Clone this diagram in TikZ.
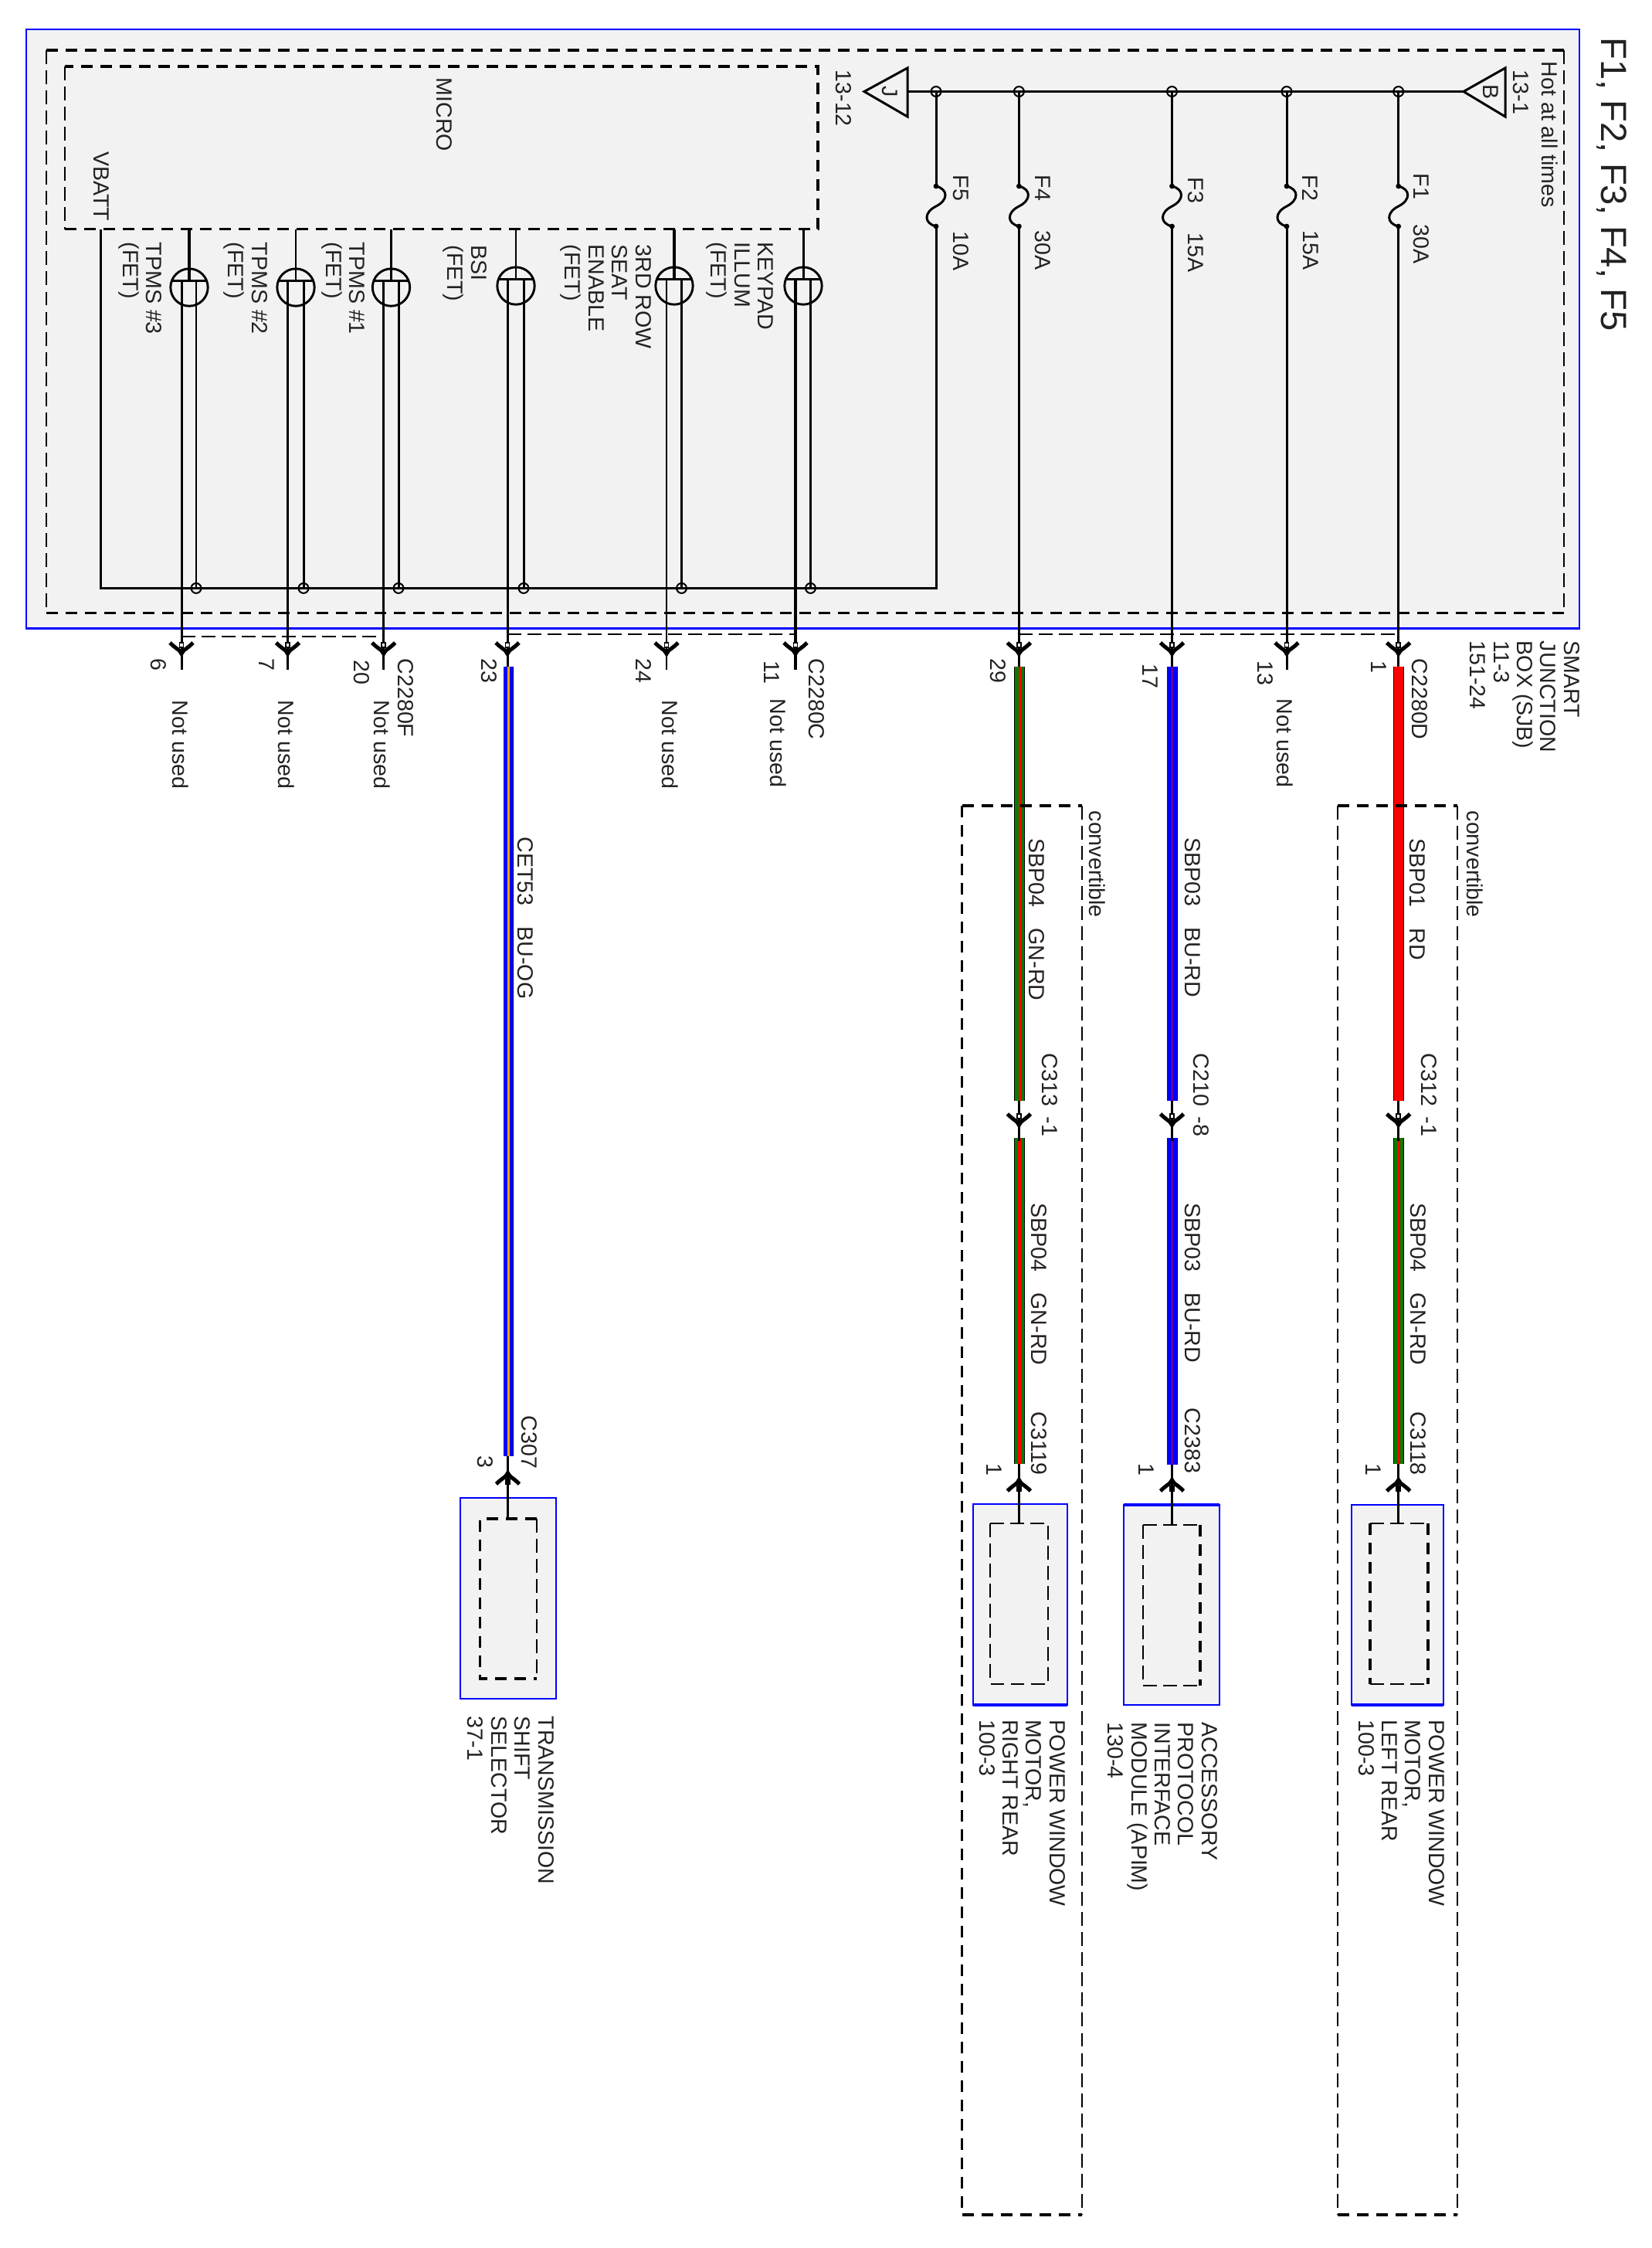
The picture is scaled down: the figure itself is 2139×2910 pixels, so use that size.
\documentclass[tikz,border=0pt]{standalone}
\usepackage{fontspec}
\setmainfont{Liberation Sans}
\definecolor{boxgray}{HTML}{F2F2F2}
\definecolor{gnwire}{HTML}{007F00}
\definecolor{ogwire}{HTML}{FFA500}
\definecolor{inktext}{HTML}{222222}
\tikzset{
 lbl/.style={rotate=-90,anchor=north west,inner sep=0pt,align=left,text=inktext,font=\fontsize{6.85}{7.3}\selectfont},
 lnk/.style={line width=.72pt},
 fatlnk/.style={line width=.85pt},
 thinlnk/.style={line width=.5pt},
 dashthin/.style={line width=.48pt,dash pattern=on 4.3pt off 1.95pt},
 dashfat/.style={line width=.75pt,dash pattern=on 3.6pt off 2.4pt},
 bluebox/.style={draw=blue,fill=boxgray,line width=.7pt},
 junct/.style={circle,draw,fill=none,inner sep=0pt,minimum size=3.1pt,line width=.5pt},
 fet/.style={circle,draw,inner sep=0pt,minimum size=11.6pt,line width=.7pt},
 plug/.pic={
  \draw[line width=1.2pt] (-15,-13) .. controls (-9,-7) and (-4,-4) .. (0,-1) .. controls (4,-4) and (9,-7) .. (15,-13);
  \fill (-7,-5) -- (0,6) -- (7,-5) -- cycle;
  \draw[fill=white,line width=.35pt] (-2.5,-13) rectangle (2.5,-7);
 },
 fuse/.pic={
  \draw[lnk] (0,0) .. controls (16,4) and (16,18) .. (0,26) .. controls (-16,34) and (-16,48) .. (0,52);
  \fill (0,0) circle[radius=3.4];
  \fill (0,52) circle[radius=3.4];
 }
}
\begin{document}
\begin{tikzpicture}[x=0.24pt,y=-0.24pt]
\useasboundingbox (0,0) rectangle (2139,2910);
% junction box
\draw[bluebox] (34,38) rectangle (2045,813.6);
\draw[dashthin] (60,65) -- (60,793.5);
\draw[dashthin] (2025,65) -- (2025,793.5);
\draw[dashfat] (60,65) -- (2025,65);
\draw[dashfat,line width=.55pt] (60,793.5) -- (2025,793.5);
\draw[dashfat,fatlnk] (84,296.6) -- (1059,296.6) -- (1059,86) -- (84,86);
\draw[dashthin] (84,86) -- (84,296.6);
% feed and fuses
\coordinate (trJ) at (1175,118.5);
\coordinate (trB) at (1895,118.5);
\draw[lnk] (1119,118.5) -- (1175,88) -- (1175,151) -- cycle;
\draw[lnk] (1895,118.5) -- (1949,88) -- (1949,151) -- cycle;
\draw[lnk] (trJ) -- (trB);
\foreach \n/\x in {5/1212,4/1319.4,3/1517.5,2/1666,1/1810.7}{
 \node[junct] (jf\n) at (\x,118.5) {};
 \coordinate (fa\n) at (\x,241);
 \coordinate (fb\n) at (\x,293);
 \pic at (fa\n) {fuse};
 \draw[lnk] (jf\n.center) -- (fa\n);
}
\coordinate (busL) at (130,761.4);
\coordinate (busR) at (1212,761.4);
\coordinate (vbatt) at (130,296.6);
\draw[lnk] (vbatt) -- (busL) -- (busR) -- (fb5);
% outputs of the fuses
\foreach \n/\x/\e in {4/1319.4/866,3/1517.5/866,2/1666/867,1/1810.7/866}{
 \coordinate (ef\n) at (\x,\e);
 \draw[lnk] (fb\n) -- (ef\n);
 \pic at (\x,845) {plug};
}
% fets
\foreach \n/\c/\l/\r/\y/\b/\sg/\sl/\sr in {
 a/245/235/254/372/363.6/fatlnk/lnk/thinlnk,
 b/383/372.5/393/372/363.6/thinlnk/lnk/lnk,
 c/506.5/496.7/516/372/363.6/lnk/lnk/lnk,
 d/668/657/678/370/361.6/thinlnk/lnk/lnk,
 e/873/863/882.5/370/361.6/fatlnk/thinlnk/lnk,
 f/1040/1030/1049.5/370/361.6/lnk/fatlnk/thinlnk}{
 \node[fet] (q\n) at (\c,\y) {};
 \coordinate (qg\n) at (\c,296.6);
 \coordinate (qb\n) at (\c,\b);
 \coordinate (ql\n) at (\l,\b);
 \coordinate (qr\n) at (\r,\b);
 \coordinate (qe\n) at (\l,867);
 \node[junct] (jb\n) at (\r,761.4) {};
 \draw[\sg] (qg\n) -- (qb\n);
 \draw[lnk] (\c-22,\b) -- (\c+22,\b);
 \draw[\sl] (ql\n) -- (qe\n);
 \draw[\sr] (qr\n) -- (jb\n.center);
 \pic at (\l,845) {plug};
}
\draw[dashthin] (235,823.7) -- (496.7,823.7);
\draw[dashthin] (657,821) -- (1030,821);
\draw[dashthin] (1319.4,821) -- (1810.7,821);
% wires
\foreach \n/\x/\w/\low/\ca/\cb/\ia/\ib in {1/1810.7/1811.3/1895/red/gnwire/0/.95,2/1517.5/1517.5/1896/blue/blue/.3/.3,3/1319.4/1320.3/1895/gnwire/gnwire/.85/.95}{
 \coordinate (wa\n) at (\w,862.7);
 \coordinate (wb\n) at (\w,1425);
 \coordinate (wc\n) at (\w,1473);
 \coordinate (wd\n) at (\w,\low);
 \coordinate (la\n) at (\x,1425);
 \coordinate (lb\n) at (\x,1477);
 \draw[line width=3.36pt] (wa\n) -- (wb\n);
 \draw[line width=2.95pt,color=\ca] (wa\n) -- (wb\n);
 \draw[line width=3.36pt] (wc\n) -- (wd\n);
 \draw[line width=2.95pt,color=\cb] (wc\n) -- (wd\n);
 \draw[line width=\ia pt,color=red] (wa\n) -- (wb\n);
 \draw[line width=\ib pt,color=red] (wc\n) -- (wd\n);
 \draw[lnk] (la\n) -- (lb\n);
 \pic at (\x,1455) {plug};
 \pic[yscale=-1] at (\x,1917) {plug};
}
\coordinate (wa4) at (658.4,862.5);
\coordinate (wb4) at (658.4,1885);
\draw[line width=3.3pt] (wa4) -- (wb4);
\draw[line width=2.9pt,color=blue] (wa4) -- (wb4);
\draw[line width=.8pt,color=ogwire] (wa4) -- (wb4);
\pic[yscale=-1] at (657.5,1908) {plug};
% convertible frames
\draw[dashfat] (1245.6,1043) -- (1400.5,1043);
\draw[dashfat] (1245.6,1043) -- (1245.6,2867);
\draw[dashthin] (1400.5,1043) -- (1400.5,2867);
\draw[dashfat] (1245.6,2867) -- (1400.5,2867);
\draw[dashfat] (1732.3,1043) -- (1887,1043);
\draw[dashthin] (1732.3,1043) -- (1732.3,2867);
\draw[dashthin] (1887,1043) -- (1887,2867);
\draw[dashfat] (1732.3,2867) -- (1887,2867);
% end components
\draw[bluebox] (596,1939) rectangle (720,2199);
\draw[bluebox,line width=.4pt] (1260,1946.7) rectangle (1381.7,2207);
\draw[blue,line width=.8pt] (1260,2207) -- (1381.7,2207);
\draw[bluebox,line width=.4pt] (1455,1948) rectangle (1579,2207);
\draw[blue,line width=.8pt] (1455,1948) -- (1579,1948);
\draw[bluebox,line width=.4pt] (1750,1948) rectangle (1869,2207);
\draw[blue,line width=.8pt] (1750,2207) -- (1869,2207);
\draw[dashthin] (695,1966) -- (695,2173);
\draw[dashfat] (695,1966) -- (621.5,1966) -- (621.5,2173) -- (695,2173);
\draw[dashthin] (1282,1971.7) rectangle (1356.7,2179.5);
\draw[dashthin] (1479.6,1974) -- (1554,1974);
\draw[dashthin] (1479.6,1974) -- (1479.6,2182) -- (1554,2182);
\draw[dashfat] (1554,1974) -- (1554,2182);
\draw[dashthin] (1774,1972) -- (1849,1972);
\draw[dashthin] (1774,2179.5) -- (1849,2179.5);
\draw[dashfat] (1774,1972) -- (1774,2179.5);
\draw[dashfat] (1849,1972) -- (1849,2179.5);
% wires into the components
\foreach \n/\x/\a/\e in {1/1810.7/1895/1972,2/1517.5/1896/1974,3/1319.4/1895/1972,4/657.5/1885/1966}{
 \coordinate (lc\n) at (\x,\a);
 \coordinate (ld\n) at (\x,\e);
 \draw[lnk] (lc\n) -- (ld\n);
}
% text
\node[lbl,font=\fontsize{11.3}{12}\selectfont] (title) at (2107,48) {F1, F2, F3, F4, F5};
\node[lbl] (hot) at (2018,79) {Hot at all times};
\node[lbl] (refb) at (1980,90) {13-1};
\node[lbl] (refj) at (1103,90) {13-12};
\node[lbl] (micro) at (586,100) {MICRO};
\node[lbl] (vb) at (142,195.5) {VBATT};
\node[lbl,anchor=center] (ltrJ) at (1152,119) {J};
\node[lbl,anchor=center] (ltrB) at (1930,119) {B};
\node[lbl] (sjb) at (2046,829) {SMART\\JUNCTION\\BOX (SJB)\\11-3\\151-24};
\foreach \n/\x/\y/\t in {a/210.5/313/TPMS \#3,b/347/313/TPMS \#2,c/473.5/313/TPMS \#1,d/631/316.7/BSI,f/1002/313/KEYPAD\\ILLUM}
 \node[lbl] (lq\n) at (\x,\y) {\t\\(FET)};
\node[lbl] (lqe) at (844,316) {3RD ROW\\SEAT\\ENABLE\\(FET)};
\foreach \n/\x/\y/\a/\b in {5/1255/226/299/10A,4/1361/226/298/30A,3/1559/229/301/15A,2/1707.6/226/298/15A,1/1851/224/290/30A}{
 \node[lbl] (lf\n) at (\x,\y) {F\n};
 \node[lbl] (la\n) at (\x,\a) {\b};
}
\foreach \n/\x/\y/\t in {a/216/852/6,b/356/852/7,c/479/854/20,d/644/852/23,e/844/852/24,f/1010/855/11,g/1303/852/29,h/1500/858.5/17,i/1649/855/13,j/1796/855/1,k/1298/1894/1,l/1495/1894/1,m/1789/1894/1,n/639/1884/3}
 \node[lbl] (pin\n) at (\x,\y) {\t};
\foreach \n/\x/\y in {a/245.5/906,b/382/906,c/506.5/906,d/879/906,e/1019/904,f/1675/904}
 \node[lbl] (nu\n) at (\x,\y) {Not used};
\foreach \n/\x/\y/\t in {a/536.6/852/C2280F,b/1068/852/C2280C,c/1849/852/C2280D,d/696/1832/C307,e/1356/1827/C3119,f/1555/1822/C2383,g/1847/1827/C3118}
 \node[lbl] (cn\n) at (\x,\y) {\t};
\foreach \n/\x/\t in {a/1370/C313,b/1566/C210,c/1861/C312}
 \node[lbl] (cm\n) at (\x,1363) {\t};
\node[lbl] (cmx) at (1370,1445) {-1};
\node[lbl] (cmy) at (1566,1445) {-8};
\node[lbl] (cmz) at (1861,1445) {-1};
\node[lbl] (lw1) at (691,1083) {CET53\hspace{6.5pt}BU-OG};
\node[lbl] (lw2) at (1353,1085) {SBP04\hspace{6.5pt}GN-RD};
\node[lbl] (lw3) at (1555,1084) {SBP03\hspace{6.5pt}BU-RD};
\node[lbl] (lw4) at (1846,1085) {SBP01\hspace{6.5pt}RD};
\node[lbl] (lw5) at (1356,1557) {SBP04\hspace{6.5pt}GN-RD};
\node[lbl] (lw6) at (1555,1557) {SBP03\hspace{6.5pt}BU-RD};
\node[lbl] (lw7) at (1847,1557) {SBP04\hspace{6.5pt}GN-RD};
\node[lbl] (conv1) at (1432,1049) {convertible};
\node[lbl] (conv2) at (1921,1049) {convertible};
\node[lbl] (comp1) at (718,2221) {TRANSMISSION\\SHIFT\\SELECTOR\\37-1};
\node[lbl] (comp2) at (1380,2226) {POWER WINDOW\\MOTOR,\\RIGHT REAR\\100-3};
\node[lbl] (comp3) at (1577,2228.6) {ACCESSORY\\PROTOCOL\\INTERFACE\\MODULE (APIM)\\130-4};
\node[lbl] (comp4) at (1871,2226) {POWER WINDOW\\MOTOR,\\LEFT REAR\\100-3};
\end{tikzpicture}
\end{document}
